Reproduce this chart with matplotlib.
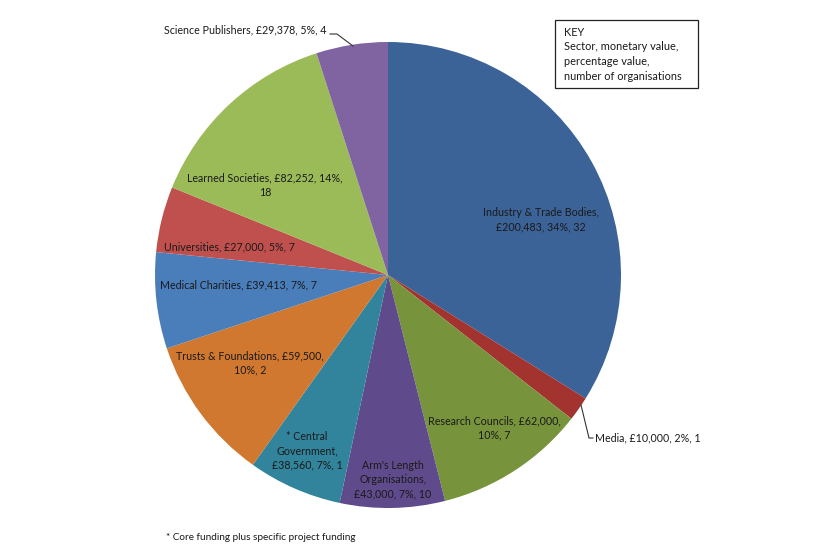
import matplotlib
matplotlib.use("Agg")
import matplotlib.pyplot as plt

# ---- data ----
sectors = ["Industry & Trade Bodies", "Media", "Research Councils",
           "Arm's Length Organisations", "* Central Government",
           "Trusts & Foundations", "Medical Charities", "Universities",
           "Learned Societies", "Science Publishers"]
values = [200483, 10000, 62000, 43000, 38560, 59500, 39413, 27000, 82252, 29378]
percents = [34, 2, 10, 7, 7, 10, 7, 5, 14, 5]
n_orgs = [32, 1, 7, 10, 1, 2, 7, 7, 18, 4]

label_texts = [
    "Industry & Trade Bodies,\n£200,483, 34%, 32",
    "Media, £10,000, 2%, 1",
    "Research Councils, £62,000,\n10%, 7",
    "Arm's Length\nOrganisations,\n£43,000, 7%, 10",
    "* Central\nGovernment,\n£38,560, 7%, 1",
    "Trusts & Foundations, £59,500,\n10%, 2",
    "Medical Charities, £39,413, 7%, 7",
    "Universities, £27,000, 5%, 7",
    "Learned Societies, £82,252, 14%,\n18",
    "Science Publishers, £29,378, 5%, 4",
]

colors = ["#3B6397", "#A3332F", "#77933C", "#5F4A8B", "#31849B",
          "#D0782F", "#4A7EBB", "#C0504D", "#9BBB59", "#8064A2"]

# ---- layout (pixel based) ----
W, H = 840, 555
CX, CY, R = 388, 275, 233

def to_data(px, py):
    return ((px - CX) / R, (CY - py) / R)

# label anchor positions in pixels (center unless noted)
label_px = [(541, 220), (595, 438), (494, 428), (393, 480), (307, 451),
            (250, 363), (238, 285), (229, 247), (265, 185), (327, 30)]
label_ha = ["center", "left", "center", "center", "center",
            "center", "center", "center", "center", "right"]

fig = plt.figure(figsize=(W / 100, H / 100), dpi=100)
ax = fig.add_axes([0, 0, 1, 1])
fig.patch.set_facecolor("white")

ax.pie(values, colors=colors, startangle=90, counterclock=False,
       radius=1.0, center=(0, 0),
       wedgeprops=dict(linewidth=0))

ax.set_xlim(-CX / R, (W - CX) / R)
ax.set_ylim((CY - H) / R, CY / R)
ax.set_aspect("equal")
ax.axis("off")

FONT = ["Lato", "DejaVu Sans"]
FS = 7.7
for txt, (px, py), ha in zip(label_texts, label_px, label_ha):
    x, y = to_data(px, py)
    ax.text(x, y, txt, ha=ha, va="center", fontsize=FS, family=FONT,
            color="#1a1a1a", linespacing=1.35, multialignment="center")

# leader lines
lx, ly = zip(*[to_data(*p) for p in [(581, 405), (589, 438), (593, 438)]])
ax.plot(lx, ly, color="#333333", lw=0.8)
lx, ly = zip(*[to_data(*p) for p in [(330, 34), (337, 34), (353, 46)]])
ax.plot(lx, ly, color="#333333", lw=0.8)

# KEY box
fig.patches.append(plt.Rectangle((555 / W, 1 - 88 / H), (698 - 555) / W, (88 - 20) / H,
                                 transform=fig.transFigure, facecolor="white",
                                 edgecolor="#222222", lw=0.9))
key_lines = ["KEY", "Sector, monetary value,", "percentage value,", "number of organisations"]
for i, line in enumerate(key_lines):
    fig.text(564 / W, 1 - (32 + i * 14.8) / H, line, ha="left", va="center",
             fontsize=7.9, family=FONT, color="#1a1a1a")

fig.text(166 / W, 1 - 538 / H, "* Core funding plus specific project funding",
         ha="left", va="center", fontsize=7.2, family=FONT, color="#1a1a1a")

fig.savefig("out.png", dpi=100)
